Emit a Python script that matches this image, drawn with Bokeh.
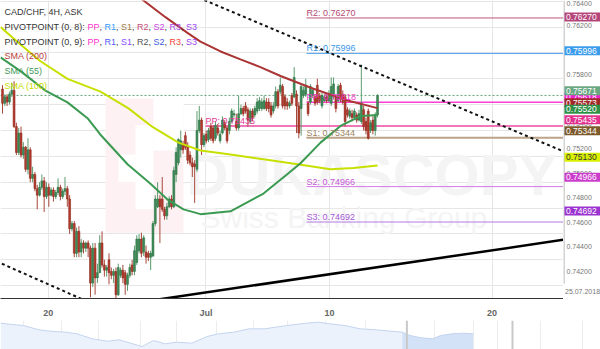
from bokeh.plotting import figure
from bokeh.layouts import column, row
from bokeh.models import Range1d, FixedTicker, SingleIntervalTicker, ColumnDataSource
from bokeh.core.properties import value
from bokeh.embed import file_html
from bokeh.resources import INLINE

# ---------------- data (CAD/CHF 4H candles) ----------------
OPEN = [
    0.7572, 0.7561, 0.7566, 0.7562, 0.7568, 0.7571, 0.7543, 0.7523, 0.7538, 0.7521,
    0.7527, 0.7510, 0.7525, 0.7503, 0.7506, 0.7495, 0.7490, 0.7496, 0.7501, 0.7489,
    0.7496, 0.7490, 0.7494, 0.7489, 0.7492, 0.7496, 0.7489, 0.7493, 0.7495, 0.7487,
    0.7464, 0.7468, 0.7445, 0.7462, 0.7446, 0.7453, 0.7449, 0.7453, 0.7449, 0.7422,
    0.7449, 0.7426, 0.7430, 0.7453, 0.7436, 0.7432, 0.7440, 0.7431, 0.7428, 0.7431,
    0.7413, 0.7428, 0.7432, 0.7430, 0.7421, 0.7428, 0.7436, 0.7431, 0.7438, 0.7447,
    0.7456, 0.7446, 0.7446, 0.7445, 0.7442, 0.7443, 0.7468, 0.7481, 0.7487, 0.7487,
    0.7479, 0.7474, 0.7481, 0.7487, 0.7481, 0.7506, 0.7515, 0.7525, 0.7529, 0.7536,
    0.7528, 0.7521, 0.7515, 0.7514, 0.7510, 0.7540, 0.7548, 0.7529, 0.7537, 0.7533,
    0.7543, 0.7542, 0.7534, 0.7542, 0.7532, 0.7538, 0.7546, 0.7542, 0.7540, 0.7547,
    0.7552, 0.7547, 0.7542, 0.7553, 0.7557, 0.7559, 0.7556, 0.7547, 0.7555, 0.7552,
    0.7555, 0.7557, 0.7557, 0.7557, 0.7562, 0.7562, 0.7559, 0.7555, 0.7559, 0.7570,
    0.7570, 0.7574, 0.7566, 0.7562, 0.7559, 0.7567, 0.7566, 0.7568, 0.7559, 0.7557,
    0.7567, 0.7568, 0.7561, 0.7562, 0.7567, 0.7566, 0.7575, 0.7567, 0.7559, 0.7563,
    0.7566, 0.7563, 0.7561, 0.7566, 0.7566, 0.7563, 0.7575, 0.7568, 0.7566, 0.7556,
    0.7551, 0.7553, 0.7550, 0.7552, 0.7548, 0.7547, 0.7556, 0.7547, 0.7555, 0.7540,
    0.7548, 0.7540, 0.7552]
HIGH = [
    0.7575, 0.7568, 0.7568, 0.7570, 0.7577, 0.7578, 0.7546, 0.7542, 0.7543, 0.7531,
    0.7528, 0.7534, 0.7527, 0.7512, 0.7508, 0.7498, 0.7500, 0.7506, 0.7504, 0.7500,
    0.7499, 0.7496, 0.7496, 0.7494, 0.7503, 0.7498, 0.7495, 0.7504, 0.7497, 0.7490,
    0.7470, 0.7470, 0.7465, 0.7466, 0.7456, 0.7455, 0.7454, 0.7455, 0.7451, 0.7453,
    0.7453, 0.7437, 0.7459, 0.7462, 0.7440, 0.7436, 0.7445, 0.7434, 0.7433, 0.7434,
    0.7437, 0.7434, 0.7436, 0.7432, 0.7430, 0.7437, 0.7440, 0.7451, 0.7459, 0.7460,
    0.7461, 0.7459, 0.7451, 0.7447, 0.7447, 0.7470, 0.7490, 0.7500, 0.7490, 0.7504,
    0.7481, 0.7484, 0.7489, 0.7490, 0.7512, 0.7527, 0.7534, 0.7540, 0.7532, 0.7539,
    0.7531, 0.7524, 0.7519, 0.7517, 0.7555, 0.7559, 0.7550, 0.7538, 0.7540, 0.7542,
    0.7546, 0.7544, 0.7547, 0.7545, 0.7540, 0.7551, 0.7548, 0.7543, 0.7550, 0.7557,
    0.7556, 0.7553, 0.7567, 0.7560, 0.7559, 0.7562, 0.7558, 0.7557, 0.7557, 0.7559,
    0.7565, 0.7566, 0.7565, 0.7567, 0.7565, 0.7565, 0.7562, 0.7562, 0.7574, 0.7572,
    0.7581, 0.7576, 0.7568, 0.7565, 0.7563, 0.7569, 0.7589, 0.7571, 0.7562, 0.7576,
    0.7574, 0.7580, 0.7563, 0.7576, 0.7573, 0.7568, 0.7580, 0.7569, 0.7569, 0.7568,
    0.7568, 0.7571, 0.7581, 0.7581, 0.7568, 0.7576, 0.7577, 0.7571, 0.7568, 0.7558,
    0.7557, 0.7556, 0.7557, 0.7554, 0.7556, 0.7591, 0.7559, 0.7550, 0.7557, 0.7548,
    0.7551, 0.7554, 0.7568]
LOW = [
    0.7553, 0.7559, 0.7559, 0.7560, 0.7566, 0.7542, 0.7521, 0.7521, 0.7519, 0.7518,
    0.7508, 0.7506, 0.7500, 0.7500, 0.7493, 0.7479, 0.7489, 0.7494, 0.7477, 0.7487,
    0.7481, 0.7489, 0.7485, 0.7487, 0.7490, 0.7486, 0.7487, 0.7490, 0.7481, 0.7460,
    0.7462, 0.7442, 0.7442, 0.7442, 0.7442, 0.7445, 0.7446, 0.7442, 0.7411, 0.7419,
    0.7413, 0.7422, 0.7430, 0.7434, 0.7427, 0.7427, 0.7421, 0.7425, 0.7422, 0.7409,
    0.7412, 0.7426, 0.7422, 0.7413, 0.7416, 0.7426, 0.7428, 0.7428, 0.7436, 0.7445,
    0.7442, 0.7443, 0.7437, 0.7439, 0.7432, 0.7442, 0.7466, 0.7480, 0.7453, 0.7477,
    0.7471, 0.7471, 0.7480, 0.7479, 0.7480, 0.7500, 0.7513, 0.7519, 0.7522, 0.7525,
    0.7514, 0.7513, 0.7504, 0.7484, 0.7508, 0.7538, 0.7521, 0.7527, 0.7530, 0.7531,
    0.7532, 0.7530, 0.7532, 0.7536, 0.7530, 0.7537, 0.7540, 0.7530, 0.7537, 0.7546,
    0.7550, 0.7540, 0.7540, 0.7552, 0.7551, 0.7553, 0.7543, 0.7545, 0.7547, 0.7550,
    0.7553, 0.7555, 0.7555, 0.7556, 0.7555, 0.7554, 0.7550, 0.7553, 0.7557, 0.7557,
    0.7568, 0.7557, 0.7556, 0.7556, 0.7557, 0.7559, 0.7565, 0.7538, 0.7534, 0.7536,
    0.7565, 0.7566, 0.7551, 0.7560, 0.7565, 0.7559, 0.7560, 0.7561, 0.7557, 0.7562,
    0.7561, 0.7562, 0.7559, 0.7564, 0.7554, 0.7562, 0.7562, 0.7560, 0.7543, 0.7550,
    0.7549, 0.7547, 0.7548, 0.7546, 0.7547, 0.7545, 0.7540, 0.7537, 0.7533, 0.7538,
    0.7537, 0.7536, 0.7550]
CLOSE = [
    0.7561, 0.7566, 0.7562, 0.7568, 0.7571, 0.7543, 0.7523, 0.7538, 0.7521, 0.7527,
    0.7510, 0.7525, 0.7503, 0.7506, 0.7495, 0.7490, 0.7496, 0.7501, 0.7489, 0.7496,
    0.7490, 0.7494, 0.7489, 0.7492, 0.7496, 0.7489, 0.7493, 0.7495, 0.7487, 0.7464,
    0.7468, 0.7445, 0.7462, 0.7446, 0.7453, 0.7449, 0.7453, 0.7449, 0.7422, 0.7449,
    0.7426, 0.7430, 0.7453, 0.7436, 0.7432, 0.7434, 0.7430, 0.7428, 0.7431, 0.7413,
    0.7434, 0.7432, 0.7426, 0.7421, 0.7428, 0.7434, 0.7431, 0.7447, 0.7456, 0.7456,
    0.7445, 0.7457, 0.7442, 0.7442, 0.7445, 0.7468, 0.7487, 0.7487, 0.7481, 0.7479,
    0.7474, 0.7481, 0.7487, 0.7481, 0.7509, 0.7523, 0.7533, 0.7532, 0.7525, 0.7527,
    0.7517, 0.7515, 0.7512, 0.7512, 0.7540, 0.7548, 0.7529, 0.7536, 0.7532, 0.7540,
    0.7534, 0.7532, 0.7544, 0.7538, 0.7537, 0.7548, 0.7542, 0.7532, 0.7547, 0.7555,
    0.7553, 0.7542, 0.7553, 0.7557, 0.7553, 0.7555, 0.7548, 0.7555, 0.7550, 0.7557,
    0.7562, 0.7563, 0.7562, 0.7563, 0.7557, 0.7557, 0.7552, 0.7559, 0.7570, 0.7559,
    0.7575, 0.7559, 0.7559, 0.7559, 0.7561, 0.7561, 0.7581, 0.7559, 0.7538, 0.7574,
    0.7571, 0.7575, 0.7553, 0.7574, 0.7571, 0.7561, 0.7562, 0.7563, 0.7567, 0.7566,
    0.7563, 0.7568, 0.7574, 0.7576, 0.7557, 0.7574, 0.7565, 0.7562, 0.7547, 0.7552,
    0.7555, 0.7550, 0.7555, 0.7548, 0.7553, 0.7561, 0.7543, 0.7540, 0.7534, 0.7546,
    0.7540, 0.7552, 0.75671]

# moving averages (bar position, value)
SMA200_X = [51.0, 60.9, 70.4, 79.9, 85.5, 94.2, 102.8, 111.4, 120.1, 134.3, 149.0, 162.0]
SMA200_Y = [0.76534, 0.76405, 0.76276, 0.76155, 0.76087, 0.76011, 0.75950, 0.75890,
            0.75821, 0.75723, 0.75632, 0.75573]
SMA55_X = [-0.86, 7.78, 18.57, 28.08, 36.72, 42.33, 54.0, 63.93, 71.27, 78.18, 85.53,
           98.49, 112.74, 123.11, 128.73, 137.37, 146.0, 154.64, 162.0]
SMA55_Y = [0.75965, 0.75859, 0.75708, 0.75617, 0.75495, 0.75367, 0.75139, 0.74988,
           0.74866, 0.74790, 0.74753, 0.74775, 0.74912, 0.75063, 0.75147, 0.75306,
           0.75435, 0.75511, 0.75520]
SMA100_X = [-0.86, 7.78, 16.41, 28.08, 42.33, 54.43, 64.79, 76.03, 85.53, 98.49,
            112.74, 127.43, 141.68, 151.62, 162.0]
SMA100_Y = [0.76200, 0.76064, 0.75935, 0.75799, 0.75700, 0.75571, 0.75427, 0.75306,
            0.75245, 0.75215, 0.75177, 0.75139, 0.75101, 0.75109, 0.75130]

# pivot points
PIV8_NAMES = ["R2", "R1", "PP", "S1", "S2", "S3"]
PIV8_LEVELS = [0.76270, 0.75996, 0.75618, 0.75344, 0.74966, 0.74692]
PIV8_START = 131.3
PIV9_LEVEL = 0.75435
PIV9_START = 87.7

# trend lines
TREND_DOWN_X = [80.0, 250.0]
TREND_DOWN_Y = [0.76462, 0.75180]
TREND_LEFT_X = [-5.0, 40.0]
TREND_LEFT_Y = [0.74407, 0.74051]
TREND_UP_X = [60.0, 250.0]
TREND_UP_Y = [0.74074, 0.74575]

LAST_PRICE = 0.75671
SMA200_LAST, SMA55_LAST, SMA100_LAST = 0.75573, 0.75520, 0.75130

X_TICKS = [19.8, 87.9, 141.2, 211.5]
X_TICK_LABELS = ["20", "Jul", "10", "20"]
Y_TICKS = [0.742, 0.744, 0.746, 0.748, 0.750, 0.752, 0.754, 0.756, 0.758, 0.760,
           0.762]
Y_TICK_TOP = 0.764
NAV_DATE = "25.07.2018"

# navigator series
NAV_X = [0, 3, 6, 10, 13, 17, 20, 24, 28, 31, 34, 37, 40, 43, 46, 50, 54, 57, 61, 65,
         69, 73, 77, 80, 83, 86, 90, 94, 98, 102, 105, 107, 110, 113, 115, 118, 121, 123.5]
NAV_Y = [0.7713, 0.7695, 0.7681, 0.7622, 0.7602, 0.7589, 0.7566, 0.7497, 0.7464, 0.7484,
         0.7437, 0.7391, 0.7474, 0.7428, 0.7451, 0.7437, 0.7529, 0.7566, 0.7589, 0.7635,
         0.7635, 0.7667, 0.7695, 0.7713, 0.7727, 0.7704, 0.7681, 0.7635, 0.7622, 0.7602,
         0.7589, 0.7543, 0.7511, 0.7497, 0.7543, 0.7566, 0.7575, 0.7566]
NAV_SEL = [106.2, 133.8]
NAV_GRID = [6, 16, 25.5, 36.5, 46, 56.5, 66, 75, 85, 95.5, 106, 113.5, 123.5, 130, 141, 152]

# ---------------- geometry helpers ----------------
PX_PER_BAR = 2.315
PRICE_PER_PX = 0.0000758
X_START = -0.864
X_END = 242.33
Y_TOP = 0.76405
Y_BOTTOM = 0.741007
FONT = "Liberation Sans"


def px2x(px):
    return X_START + px / PX_PER_BAR


def px2y(py):
    return Y_TOP - py * PRICE_PER_PX


p = figure(width=563, height=320, x_range=Range1d(X_START, X_END),
           y_range=Range1d(Y_BOTTOM, Y_TOP), output_backend="svg",
           toolbar_location=None, y_axis_location=None, title=None,
           min_border_left=0, min_border_top=0, min_border_right=0,
           min_border_bottom=16)
p.outline_line_color = None
p.background_fill_color = "white"
p.border_fill_color = "white"

xax = p.xaxis[0]
xax.ticker = FixedTicker(ticks=X_TICKS)
xax.major_label_overrides = {t: l for t, l in zip(X_TICKS, X_TICK_LABELS)}
xax.major_label_text_font = FONT
xax.major_label_text_font_size = "9px"
xax.major_label_text_font_style = "bold"
xax.major_label_text_color = "#666666"
xax.axis_line_color = "#333333"
xax.major_tick_line_color = None
xax.minor_tick_line_color = None
xax.major_label_standoff = 3

p.xgrid.ticker = FixedTicker(ticks=X_TICKS)
p.xgrid.grid_line_color = "#e6e6e6"
p.ygrid.ticker = SingleIntervalTicker(interval=0.002, num_minor_ticks=0)
p.ygrid.grid_line_color = "#e6e6e6"

# watermark (decoration)
WM_PINK = (105, 183, 100, 237)
WM_WHITE = [(135, 153, 127, 213), (153, 183, 98, 153), (118, 135, 157, 185)]
p.quad(left=[px2x(WM_PINK[0])], right=[px2x(WM_PINK[1])], top=[px2y(WM_PINK[2])],
       bottom=[px2y(WM_PINK[3])], fill_color="#fdf1f3", line_color=None)
p.quad(left=[px2x(w[0]) for w in WM_WHITE], right=[px2x(w[1]) for w in WM_WHITE],
       top=[px2y(w[2]) for w in WM_WHITE], bottom=[px2y(w[3]) for w in WM_WHITE],
       fill_color="white", line_color=None)
p.text(x=[px2x(186)], y=[px2y(178)], text=["DUKASCOPY"], text_font=value(FONT),
       text_font_style="bold", text_font_size="58px", text_color="#f4f4f4",
       text_baseline="alphabetic")
p.text(x=[px2x(200)], y=[px2y(221)], text=["Swiss Banking Group"], text_font=value(FONT),
       text_font_size="30px", text_color="#f4f4f4", text_baseline="alphabetic")

# pivot lines
PIV8_LINE = ["#b9577e", "#4ba3ee", "#ff3fd4", "#bba488", "#d27ae4", "#b47be6"]
PIV8_TEXT = ["#b44a74", "#3b98e8", "#f03cc8", "#9c8461", "#c757d8", "#a75ad9"]
PIV8_WIDTH = [1, 1, 1.5, 2, 1, 1]
for lvl, lc, w in zip(PIV8_LEVELS, PIV8_LINE, PIV8_WIDTH):
    p.line([PIV8_START, X_END + 5], [lvl, lvl], line_color=lc, line_width=w)
p.line([PIV9_START, X_END + 5], [PIV9_LEVEL, PIV9_LEVEL], line_color="#ec4aa0", line_width=1.5)

# current price line
p.line([X_START, X_END + 5], [LAST_PRICE, LAST_PRICE], line_color="#5fa577",
       line_width=1, line_dash="2 2")

# candles
idx = list(range(len(CLOSE)))
up = [c >= o for o, c in zip(OPEN, CLOSE)]
src = ColumnDataSource(dict(
    x=idx, high=HIGH, low=LOW,
    top=[max(o, c) for o, c in zip(OPEN, CLOSE)],
    bottom=[min(o, c) for o, c in zip(OPEN, CLOSE)],
    fill=["#3c8d57" if u else "#b53a2c" for u in up],
    edge=["#2f7146" if u else "#8f2d22" for u in up],
    wick=["#5c9c6e" if u else "#a9473b" for u in up],
))
p.segment(x0="x", x1="x", y0="low", y1="high", line_color="wick", line_width=1, source=src)
p.vbar(x="x", width=0.8, top="top", bottom="bottom", fill_color="fill",
       line_color="edge", line_width=0.6, source=src)

# moving averages
p.line(SMA100_X, SMA100_Y, line_color="#c8e000", line_width=2)
p.line(SMA55_X, SMA55_Y, line_color="#3b9a52", line_width=2)
p.line(SMA200_X, SMA200_Y, line_color="#ab3434", line_width=2)

# trend lines
p.line(TREND_DOWN_X, TREND_DOWN_Y, line_color="#111111", line_width=2, line_dash="3 3")
p.line(TREND_LEFT_X, TREND_LEFT_Y, line_color="#111111", line_width=2, line_dash="3 3")
p.line(TREND_UP_X, TREND_UP_Y, line_color="#000000", line_width=2.5)

# pivot texts
ptx = [PIV8_START] * len(PIV8_LEVELS) + [PIV9_START]
pty = PIV8_LEVELS + [PIV9_LEVEL]
ptt = [f"{n}: {v:.5f}" for n, v in zip(PIV8_NAMES, PIV8_LEVELS)] + [f"PP: {PIV9_LEVEL:.5f}"]
ptc = PIV8_TEXT + ["#e43d98"]
p.text(x="x", y="y", text="t", text_color="c",
       source=ColumnDataSource(dict(x=ptx, y=pty, t=ptt, c=ptc)),
       text_font=value(FONT), text_font_size="9px", text_baseline="bottom",
       text_align="left")

# legend (top-left)
LEGEND_ROWS = [
    [("CAD/CHF, 4H, ASK", "#333333")],
    [("PIVOTPOINT (0, 8): ", "#333333"), ("PP", "#ff33cc"), (", ", "#333333"),
     ("R1", "#3399ff"), (", ", "#333333"), ("S1", "#a07c4a"), (", ", "#333333"),
     ("R2", "#c4507c"), (", ", "#333333"), ("S2", "#c843e0"), (", ", "#333333"),
     ("R3", "#a845e0"), (", ", "#333333"), ("S3", "#9b44f2")],
    [("PIVOTPOINT (0, 9): ", "#333333"), ("PP", "#ff33cc"), (", ", "#333333"),
     ("R1", "#4f5cff"), (", ", "#333333"), ("S1", "#8a4cff"), (", ", "#333333"),
     ("R2", "#555555"), (", ", "#333333"), ("S2", "#3d5ce0"), (", ", "#333333"),
     ("R3", "#f04a35"), (", ", "#333333"), ("S3", "#9b44f2")],
    [("SMA (200)", "#b83c3c")],
    [("SMA (55)", "#3f9a58")],
    [("SMA (100)", "#c5dd00")],
]
CW = {"P": .667, "I": .278, "V": .667, "O": .778, "T": .611, "N": .722, " ": .278,
      "(": .333, ")": .333, ",": .278, ":": .278, "R": .722, "S": .667}


def text_w(s, size=9.0):
    return sum(CW.get(ch, 0.556) for ch in s) * size


lx, ly, lt, lc = [], [], [], []
for r, row_items in enumerate(LEGEND_ROWS):
    xpx = 4.0
    for txt, col in row_items:
        lx.append(px2x(xpx))
        ly.append(px2y(12 + 15 * r))
        lt.append(txt)
        lc.append(col)
        xpx += text_w(txt)
p.text(x="x", y="y", text="t", text_color="c",
       source=ColumnDataSource(dict(x=lx, y=ly, t=lt, c=lc)),
       text_font=value(FONT), text_font_size="9px", text_baseline="middle",
       text_align="left")

# ---------------- right price scale (own narrow panel) ----------------
side = figure(width=37, height=320, x_range=Range1d(0, 37),
              y_range=Range1d(px2y(320), Y_TOP), output_backend="svg",
              toolbar_location=None, x_axis_location=None, y_axis_location=None,
              min_border=0, title=None)
side.outline_line_color = None
side.xgrid.visible = False
side.ygrid.visible = False
side.background_fill_color = "white"
side.line([0.5, 0.5], [Y_BOTTOM, Y_TOP], line_color="#a8a8a8", line_width=1)
side.text(x=[3] * len(Y_TICKS), y=Y_TICKS, text=[f"{t:.5f}" for t in Y_TICKS],
          text_font=value(FONT), text_font_size="7px", text_color="#777777",
          text_baseline="middle", text_align="left")
side.text(x=[3], y=[Y_TICK_TOP], text=[f"{Y_TICK_TOP:.5f}"],
          text_font=value(FONT), text_font_size="7px", text_color="#777777",
          text_baseline="top", text_align="left")

BOXES = [
    (PIV8_LEVELS[0], "#b5467a", "white"),
    (PIV8_LEVELS[1], "#3b9cec", "white"),
    (PIV8_LEVELS[2], "#ee22cc", "white"),
    (SMA200_LAST, "#a02828", "white"),
    (PIV9_LEVEL, "#e3318f", "white"),
    (PIV8_LEVELS[3], "#7d5a2b", "white"),
    (SMA55_LAST, "#2f9148", "white"),
    (LAST_PRICE, "#6aa884", "white"),
    (SMA100_LAST, "#d9f000", "#333333"),
    (PIV8_LEVELS[4], "#cc3ccc", "white"),
    (PIV8_LEVELS[5], "#9a33d0", "white"),
]
for lvl, bg, tc in BOXES:
    side.rect(x=[19], y=[lvl], width=36, height=9, height_units="screen",
              fill_color=bg, line_color=None)
    side.text(x=[2.5], y=[lvl], text=[f"{lvl:.5f}"], text_font=value(FONT),
              text_font_size="8.5px", text_color=tc, text_baseline="middle",
              text_align="left")

side.text(x=[1.5], y=[px2y(313)], text=[NAV_DATE], text_font=value(FONT),
          text_font_size="7px", text_color="#777777", text_baseline="middle",
          text_align="left")

# ---------------- navigator ----------------
p2 = figure(width=600, height=29, x_range=Range1d(0, 156.8), y_range=Range1d(0.735, 0.775),
            output_backend="svg", toolbar_location=None, x_axis_location=None,
            y_axis_location=None, min_border=0, title=None)
p2.outline_line_color = None
p2.ygrid.visible = False
p2.xgrid.ticker = FixedTicker(ticks=NAV_GRID)
p2.xgrid.grid_line_color = "#ececec"
p2.varea(x=NAV_X, y1=0.735, y2=NAV_Y, fill_color="#ecf2fc")
sel_x = [x for x in NAV_X if x >= NAV_SEL[0] - 1.5]
sel_y = [y for x, y in zip(NAV_X, NAV_Y) if x >= NAV_SEL[0] - 1.5]
p2.varea(x=sel_x, y1=0.735, y2=sel_y, fill_color="#d4e2f7")
p2.line(NAV_X, NAV_Y, line_color="#c3d4ee", line_width=1)
p2.segment(x0=NAV_SEL, x1=NAV_SEL, y0=0.735, y1=0.775, line_color="#c8c8c8", line_width=2)

layout = column(row(p, side, spacing=0), p2, spacing=0)
open("out.html", "w").write(file_html(layout, INLINE))
